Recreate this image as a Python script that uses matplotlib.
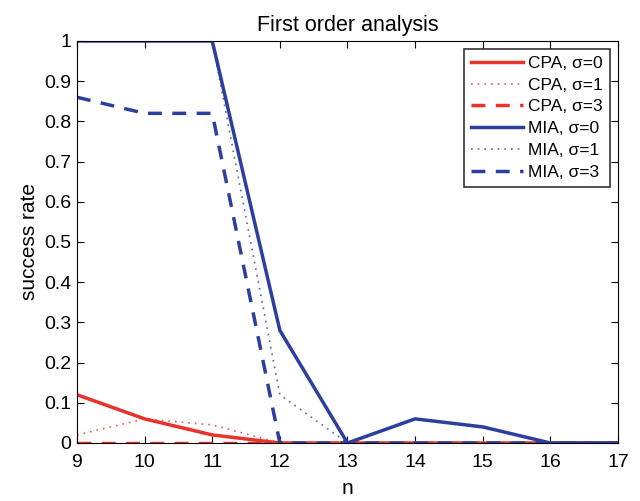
import matplotlib
matplotlib.use("Agg")
import matplotlib.pyplot as plt

n = [9, 10, 11, 12, 13, 14, 15, 16, 17]
cpa_s0 = [0.12, 0.06, 0.02, 0.0, 0.0, 0.0, 0.0, 0.0, 0.0]
cpa_s1 = [0.02, 0.06, 0.045, 0.0, 0.0, 0.0, 0.0, 0.0, 0.0]
cpa_s3 = [0.0, 0.0, 0.0, 0.0, 0.0, 0.0, 0.0, 0.0, 0.0]
mia_s0 = [1.0, 1.0, 1.0, 0.28, 0.0, 0.06, 0.04, 0.0, 0.0]
mia_s1 = [1.0, 1.0, 1.0, 0.12, 0.0, 0.0, 0.0, 0.0, 0.0]
mia_s3 = [0.86, 0.82, 0.82, 0.0, 0.0, 0.0, 0.0, 0.0, 0.0]
labels = ["CPA, σ=0", "CPA, σ=1", "CPA, σ=3", "MIA, σ=0", "MIA, σ=1", "MIA, σ=3"]
yticks = [0, 0.1, 0.2, 0.3, 0.4, 0.5, 0.6, 0.7, 0.8, 0.9, 1]
ytick_labels = ['0', '0.1', '0.2', '0.3', '0.4', '0.5', '0.6', '0.7', '0.8', '0.9', '1']

plt.rcParams['font.family'] = ['Liberation Sans', 'DejaVu Sans']
red = '#e8322a'
blue = '#2c3f9f'

fig = plt.figure(figsize=(6.4, 5.01), dpi=100)
ax = fig.add_axes([0.1203, 0.1158, 0.8453, 0.8024])

ax.plot(n, cpa_s0, color=red, lw=2.5, ls='-', label=labels[0])
ax.plot(n, cpa_s1, color=red, lw=1.2, ls=(0, (1, 3)), label=labels[1], alpha=0.8)
ax.plot(n, cpa_s3, color=red, lw=2.5, ls=(0, (4, 3)), label=labels[2])
ax.plot(n, mia_s0, color=blue, lw=2.5, ls='-', label=labels[3])
ax.plot(n, mia_s1, color=blue, lw=1.2, ls=(0, (1, 3)), label=labels[4], alpha=0.8)
ax.plot(n, mia_s3, color=blue, lw=2.5, ls=(0, (4, 3)), label=labels[5])

ax.set_xlim(9, 17)
ax.set_ylim(0, 1)
ax.set_xticks(n)
ax.set_yticks(yticks)
ax.set_yticklabels(ytick_labels)
ax.tick_params(direction='in', top=True, right=True, labelsize=14, length=5)
ax.tick_params(axis='x', pad=8)
ax.tick_params(axis='y', pad=4)
ax.set_xlabel('n', fontsize=15, labelpad=6)
ax.set_ylabel('success rate', fontsize=15, labelpad=4)
ax.set_title('First order analysis', fontsize=15.5, pad=7)
leg = ax.legend(loc='upper right', fontsize=12.5, frameon=True, fancybox=False,
                edgecolor='black', handlelength=3.0, handletextpad=0.3,
                borderaxespad=0.45, labelspacing=0.38, borderpad=0.4)
leg.get_frame().set_linewidth(1.2)

fig.savefig('out.png', dpi=100)
